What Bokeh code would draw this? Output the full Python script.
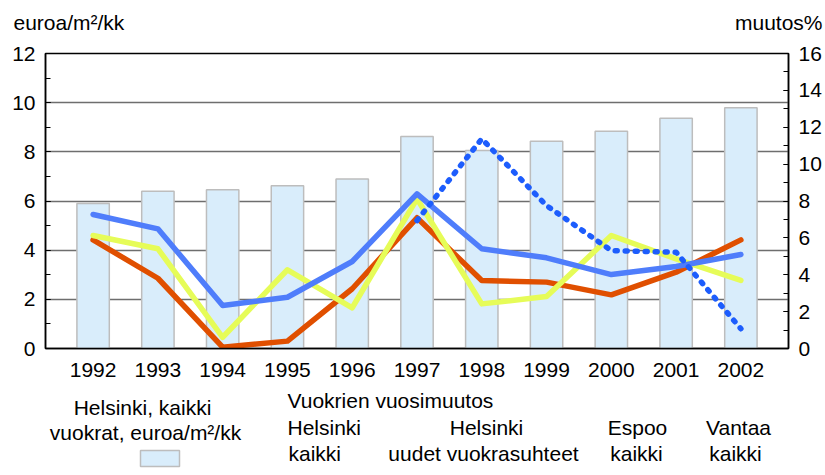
from bokeh.plotting import figure
from bokeh.models import Range1d, LinearAxis, SingleIntervalTicker, FixedTicker
from bokeh.core.properties import value
from bokeh.embed import file_html
from bokeh.resources import INLINE

years = ["1992", "1993", "1994", "1995", "1996", "1997", "1998", "1999", "2000", "2001", "2002"]
rent_hki = [5.9, 6.4, 6.46, 6.62, 6.9, 8.62, 8.05, 8.43, 8.84, 9.37, 9.79]
chg_hki_all = [7.27, 6.49, 2.33, 2.78, 4.72, 8.39, 5.41, 4.92, 4.01, 4.45, 5.10]
chg_espoo = [5.89, 3.81, 0.07, 0.40, 3.24, 7.09, 3.69, 3.60, 2.91, 4.14, 5.89]
chg_vantaa = [6.13, 5.41, 0.61, 4.27, 2.21, 8.12, 2.42, 2.82, 6.13, 4.86, 3.69]
new_years = ["1997", "1998", "1999", "2000", "2001", "2002"]
chg_hki_new = [6.94, 11.37, 7.75, 5.31, 5.22, 1.07]

FONT = "Liberation Sans"
FS = "21px"
W = 825

xs = list(range(len(years)))
xs_new = [years.index(y) for y in new_years]


def text_strip(height, y_top):
    f = figure(width=W, height=height, output_backend="svg", toolbar_location=None,
               x_range=Range1d(0, W), y_range=Range1d(y_top + height, y_top),
               x_axis_type=None, y_axis_type=None,
               min_border_left=0, min_border_right=0, min_border_top=0, min_border_bottom=0)
    f.outline_line_color = None
    f.xgrid.visible = False
    f.ygrid.visible = False
    return f


def put(f, text, px, py, align="left"):
    f.text(x=[px], y=[py], text=[text], text_font=value(FONT), text_font_size=FS,
           text_color="black", text_align=align, text_baseline="middle")


# ---- top strip: axis titles ----
TOP_H = 40
top = text_strip(TOP_H, 0)
put(top, "euroa/m²/kk", 13, 22)
put(top, "muutos%", 822, 22, "right")

# ---- main chart ----
MAIN_H = 350
p = figure(width=W, height=MAIN_H, output_backend="svg", toolbar_location=None,
           x_range=Range1d(-0.735, 10.735), y_range=Range1d(0, 12),
           min_border_left=45, min_border_right=37, min_border_top=13, min_border_bottom=42)
p.extra_y_ranges = {"pct": Range1d(0, 16)}
p.outline_line_color = "black"
p.outline_line_width = 1.5

p.vbar(x=xs, top=rent_hki, width=0.5, bottom=0, fill_color="#d9edfb",
       line_color="#bdbdbd", line_width=1.5)

p.line(x=xs, y=chg_espoo, y_range_name="pct", line_color="#e04f00", line_width=5.5,
       line_join="round", line_cap="round")
p.line(x=xs, y=chg_vantaa, y_range_name="pct", line_color="#e6fc58", line_width=5.5,
       line_join="round", line_cap="round")
p.line(x=xs, y=chg_hki_all, y_range_name="pct", line_color="#4f7dfb", line_width=5.5,
       line_join="round", line_cap="round")
p.line(x=xs_new, y=chg_hki_new, y_range_name="pct", line_color="#1d5dfd", line_width=5.5,
       line_dash="2 8", line_cap="round", line_join="round")

p.xgrid.visible = False
p.ygrid.grid_line_color = "#6e6e6e"
p.ygrid.grid_line_width = 1.5
p.ygrid.ticker = SingleIntervalTicker(interval=2)

xa = p.xaxis[0]
xa.ticker = FixedTicker(ticks=xs)
xa.major_label_overrides = {i: y for i, y in zip(xs, years)}
xa.major_tick_in = 0
xa.major_tick_out = 0
xa.minor_tick_line_color = None
xa.axis_line_color = "black"
xa.axis_line_width = 1.5
xa.major_label_standoff = 14
xa.major_label_text_font = FONT
xa.major_label_text_font_size = FS
xa.major_label_text_color = "black"


def style_y(ax):
    ax.ticker = SingleIntervalTicker(interval=2, num_minor_ticks=2)
    ax.major_tick_in = 5
    ax.major_tick_out = 0
    ax.minor_tick_in = 5
    ax.minor_tick_out = 0
    ax.major_tick_line_color = "black"
    ax.minor_tick_line_color = "black"
    ax.axis_line_color = "black"
    ax.axis_line_width = 1.5
    ax.major_label_standoff = 10
    ax.major_label_text_font = FONT
    ax.major_label_text_font_size = FS
    ax.major_label_text_color = "black"


style_y(p.yaxis[0])
ra = LinearAxis(y_range_name="pct")
style_y(ra)
p.add_layout(ra, "right")

# ---- bottom strip: legend ----
BOT_TOP = TOP_H + MAIN_H
bot = text_strip(475 - BOT_TOP, BOT_TOP)
put(bot, "Helsinki, kaikki", 142, 407, "center")
put(bot, "vuokrat, euroa/m²/kk", 145, 432, "center")
bot.quad(left=[140], right=[179], top=[450], bottom=[466],
         fill_color="#d9edfb", line_color="#bdbdbd", line_width=1.5)
put(bot, "Vuokrien vuosimuutos", 287, 400)
put(bot, "Helsinki", 287, 427)
put(bot, "kaikki", 288, 453)
put(bot, "Helsinki", 486, 427, "center")
put(bot, "uudet vuokrasuhteet", 483, 453, "center")
put(bot, "Espoo", 637, 427, "center")
put(bot, "kaikki", 636, 453, "center")
put(bot, "Vantaa", 738, 427, "center")
put(bot, "kaikki", 735, 453, "center")

open("out.html", "w").write(file_html([top, p, bot], INLINE))
